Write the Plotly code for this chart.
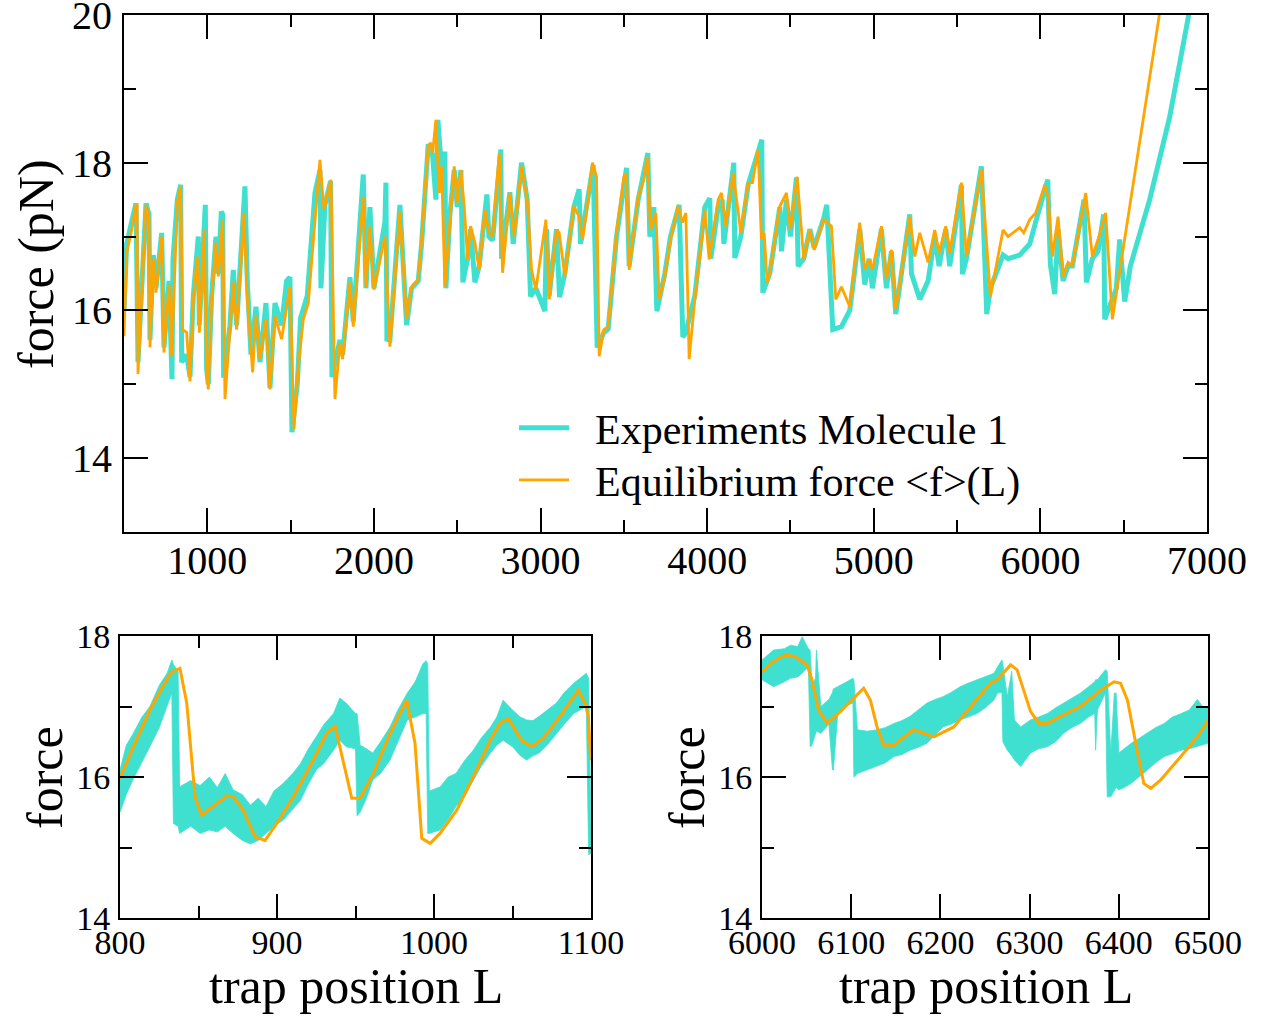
import plotly.graph_objects as go

# ---------------- data: top panel ----------------
ORANGE_TOP_X = [500, 516, 546, 572, 578, 584, 632, 650, 656, 676,
                692, 726, 740, 770, 786, 820, 840, 852, 876, 896,
                916, 940, 952, 982, 996, 1006, 1026, 1052, 1066, 1092,
                1106, 1136, 1156, 1176, 1220, 1240, 1272, 1292, 1316, 1352,
                1376, 1406, 1446, 1496, 1520, 1546, 1576, 1606, 1646, 1676,
                1700, 1742, 1766, 1796, 1812, 1856, 1876, 1936, 1952, 1976,
                2000, 2066, 2096, 2156, 2196, 2226, 2266, 2286, 2326, 2340,
                2352, 2372, 2392, 2406, 2426, 2456, 2482, 2500, 2522, 2542,
                2562, 2580, 2606, 2632, 2666, 2692, 2712, 2752, 2772, 2816,
                2842, 2886, 2920, 2946, 2972, 3032, 3052, 3096, 3112, 3146,
                3200, 3232, 3252, 3286, 3312, 3336, 3352, 3380, 3406, 3456,
                3500, 3516, 3532, 3586, 3620, 3640, 3660, 3692, 3712, 3746,
                3780, 3826, 3852, 3872, 3892, 3926, 3986, 4012, 4066, 4086,
                4112, 4156, 4202, 4246, 4272, 4306, 4326, 4342, 4360, 4376,
                4436, 4476, 4500, 4540, 4580, 4616, 4642, 4700, 4746, 4772,
                4806, 4856, 4916, 4946, 4972, 4992, 5046, 5076, 5106, 5132,
                5216, 5246, 5276, 5326, 5366, 5392, 5432, 5456, 5526, 5556,
                5646, 5700, 5776, 5806, 5876, 5900, 5936, 5972, 6026, 6046,
                6072, 6106, 6136, 6166, 6192, 6272, 6312, 6346, 6392, 6432,
                6456, 6716, 6746]
ORANGE_TOP_Y = [15.65, 16.78, 17.09, 17.43, 17.43, 15.14, 17.43, 17.27, 15.5, 16.7,
                16.24, 17.0, 15.43, 16.35, 15.38, 17.46, 17.68, 15.74, 15.7, 15.04,
                16.15, 16.73, 15.7, 17.09, 15.16, 14.93, 16.15, 16.92, 16.46, 17.23,
                14.8, 15.74, 16.38, 15.74, 17.32, 16.15, 15.16, 15.92, 15.34, 15.88,
                14.93, 15.92, 15.61, 16.32, 14.39, 15.24, 15.88, 16.1, 17.27, 18.04,
                17.36, 17.77, 14.8, 15.56, 15.34, 16.38, 15.78, 17.54, 16.32, 17.14,
                16.28, 17.0, 15.51, 17.34, 15.88, 16.32, 16.42, 16.96, 18.22, 18.27,
                18.13, 18.58, 17.59, 17.95, 16.32, 17.27, 17.95, 17.46, 17.9, 17.41,
                16.69, 17.14, 16.92, 16.55, 17.36, 17.05, 17.0, 18.13, 16.51, 17.59,
                17.0, 17.95, 17.5, 16.55, 16.28, 17.23, 16.15, 17.09, 17.05, 16.46,
                17.41, 17.27, 16.96, 17.5, 18.0, 17.81, 15.38, 15.74, 15.78, 17.05,
                17.81, 17.86, 16.55, 17.54, 17.77, 18.08, 17.09, 17.32, 16.15, 16.46,
                16.96, 17.41, 17.19, 17.32, 15.34, 16.15, 17.36, 16.69, 17.5, 17.59,
                17.14, 17.86, 17.05, 17.73, 17.73, 18.18, 16.96, 17.05, 16.38, 16.51,
                17.41, 17.59, 17.09, 17.81, 16.69, 17.09, 16.82, 17.23, 17.14, 16.15,
                16.32, 16.05, 17.19, 16.55, 16.69, 16.55, 17.14, 16.42, 16.82, 16.01,
                17.27, 16.73, 17.05, 16.65, 17.09, 16.78, 17.14, 16.78, 17.73, 16.73,
                17.9, 16.19, 17.09, 17.0, 17.12, 17.05, 17.23, 17.32, 17.7, 17.54,
                16.73, 17.27, 16.46, 16.65, 16.6, 17.59, 16.73, 16.96, 17.32, 15.88,
                16.24, 20.03, 20.5]

EXP_TOP_X = [500, 516, 546, 572, 584, 632, 650, 656, 676, 692,
             726, 740, 770, 788, 794, 820, 840, 846, 876, 896,
             916, 946, 952, 982, 988, 996, 1006, 1026, 1052, 1066,
             1084, 1092, 1098, 1136, 1156, 1176, 1226, 1240, 1262, 1292,
             1316, 1352, 1376, 1406, 1446, 1476, 1496, 1508, 1540, 1560,
             1600, 1646, 1676, 1682, 1706, 1740, 1748, 1796, 1812, 1856,
             1876, 1936, 1952, 1976, 2000, 2066, 2072, 2078, 2096, 2156,
             2196, 2226, 2266, 2286, 2326, 2352, 2372, 2384, 2406, 2426,
             2432, 2456, 2482, 2500, 2522, 2534, 2562, 2580, 2606, 2632,
             2678, 2690, 2712, 2762, 2766, 2816, 2836, 2886, 2920, 2940,
             2972, 3026, 3036, 3052, 3096, 3114, 3146, 3200, 3232, 3240,
             3286, 3316, 3340, 3380, 3406, 3456, 3516, 3532, 3586, 3644,
             3656, 3680, 3698, 3746, 3780, 3832, 3854, 3872, 3926, 3986,
             4016, 4022, 4066, 4090, 4100, 4156, 4160, 4166, 4202, 4246,
             4296, 4328, 4334, 4376, 4436, 4446, 4476, 4500, 4536, 4546,
             4580, 4616, 4642, 4700, 4718, 4754, 4806, 4856, 4916, 4946,
             4972, 4992, 5046, 5076, 5106, 5132, 5216, 5226, 5276, 5326,
             5366, 5392, 5432, 5456, 5526, 5532, 5556, 5646, 5678, 5700,
             5776, 5806, 5876, 5936, 5972, 6026, 6044, 6060, 6086, 6106,
             6136, 6166, 6192, 6262, 6276, 6312, 6346, 6380, 6386, 6456,
             6476, 6506, 6540, 6656, 6776, 6896, 6920]
EXP_TOP_Y = [16.0, 16.9, 17.2, 17.45, 15.3, 17.45, 17.3, 15.6, 16.75, 16.3,
             17.05, 15.5, 16.4, 15.07, 16.69, 17.5, 17.7, 15.3, 15.4, 15.1,
             16.2, 17.0, 15.8, 17.2, 17.43, 15.2, 15.0, 16.2, 17.0, 16.5,
             17.34, 17.3, 15.09, 15.8, 16.55, 15.8, 17.68, 16.4, 15.4, 16.05,
             15.3, 16.1, 14.95, 16.1, 15.8, 16.4, 16.45, 14.35, 15.0, 15.9,
             16.2, 17.59, 17.9, 16.3, 17.43, 17.75, 15.1, 15.6, 15.4, 16.45,
             15.85, 17.84, 16.3, 17.4, 16.3, 17.2, 17.73, 15.61, 15.6, 17.43,
             15.8, 16.3, 16.4, 16.9, 18.25, 18.1, 17.5, 18.58, 17.9, 18.15,
             16.3, 17.3, 17.9, 17.4, 17.9, 16.38, 16.7, 17.1, 16.38, 16.6,
             17.57, 17.0, 16.95, 18.18, 16.7, 17.6, 16.9, 18.0, 17.5, 16.19,
             16.3, 15.99, 17.1, 16.2, 17.1, 16.18, 16.5, 17.4, 17.64, 16.9,
             17.5, 17.97, 15.5, 15.7, 15.75, 17.0, 17.93, 16.6, 17.5, 18.13,
             17.0, 17.4, 15.99, 16.5, 17.0, 17.43, 15.64, 15.7, 16.2, 17.4,
             17.52, 16.7, 17.4, 17.5, 16.9, 17.9, 18.0, 16.71, 17.0, 17.7,
             18.1, 18.31, 16.24, 16.5, 17.4, 16.8, 17.5, 17.0, 17.8, 16.6,
             16.7, 17.1, 16.85, 17.25, 17.43, 15.74, 15.78, 16.0, 17.1, 16.35,
             16.7, 16.3, 17.1, 16.3, 16.8, 15.95, 17.3, 16.5, 16.15, 16.4,
             17.0, 16.6, 17.1, 16.6, 17.7, 16.49, 16.7, 17.95, 15.95, 16.3,
             16.75, 16.7, 16.75, 16.9, 17.2, 17.6, 17.77, 16.62, 16.22, 17.1,
             16.4, 16.6, 16.6, 17.5, 16.38, 16.7, 16.8, 17.3, 15.88, 16.3,
             16.96, 16.12, 16.6, 17.5, 18.62, 20.07, 20.4]

# ---------------- data: bottom-left panel (800-1100) ----------------
BL_ORANGE_X = [800, 808.5, 819, 829.7, 833, 838.2, 842.5, 847.8, 852, 868,
               872.2, 878.5, 886, 892.4, 899.8, 910.4, 923.1, 931.7, 937, 942.2,
               947.6, 952.9, 961.4, 972, 982.6, 987.9, 992.2, 997.5, 1003.8, 1014.5,
               1025, 1035.7, 1042, 1047.3, 1055.8, 1062.2, 1069.6, 1080.3, 1091.9, 1096.2,
               1098.3, 1099.8]
BL_ORANGE_Y = [15.98, 16.43, 16.95, 17.38, 17.49, 17.54, 17.05, 15.72, 15.46, 15.73,
               15.72, 15.53, 15.15, 15.1, 15.34, 15.72, 16.24, 16.62, 16.72, 16.24,
               15.7, 15.7, 16.05, 16.62, 17.09, 16.48, 15.13, 15.06, 15.2, 15.53,
               16.0, 16.52, 16.76, 16.83, 16.52, 16.43, 16.55, 16.86, 17.23, 17.05,
               16.86, 16.24]

BL_EXP_X = [800, 804, 808, 814, 819, 825, 830, 833, 834, 837,
            838, 845, 851, 857, 862, 867, 872, 878, 883, 888,
            893, 898, 904, 910, 915, 920, 925, 930, 936, 940,
            944, 950, 951, 953, 957, 961, 966, 972, 977, 983,
            988, 993, 995, 996, 997, 1004, 1009, 1014, 1020, 1025,
            1030, 1036, 1040, 1044, 1050, 1055, 1059, 1063, 1067, 1072,
            1078, 1083, 1089, 1093, 1097, 1098.5, 1100]
BL_EXP_UPPER = [16.1, 16.45, 16.6, 16.85, 17.0, 17.3, 17.47, 17.66, 17.6, 17.5,
                15.86, 15.95, 15.88, 16.0, 15.85, 16.05, 15.82, 15.75, 15.6, 15.7,
                15.58, 15.8, 15.91, 16.05, 16.19, 16.4, 16.57, 16.75, 16.9, 17.12,
                17.05, 16.9, 16.9, 16.45, 16.4, 16.34, 16.5, 16.71, 16.95, 17.19,
                17.35, 17.61, 17.65, 17.6, 15.8, 15.86, 16.0, 16.05, 16.25, 16.38,
                16.55, 16.71, 16.85, 17.09, 16.95, 16.85, 16.81, 16.8, 16.86, 16.95,
                17.05, 17.2, 17.33, 17.4, 17.47, 17.4, 15.3]
BL_EXP_LOWER = [15.5, 15.75, 15.95, 16.2, 16.43, 16.7, 17.0, 17.19, 15.34, 15.3,
                15.2, 15.3, 15.2, 15.25, 15.22, 15.3, 15.2, 15.1, 15.05, 15.1,
                15.2, 15.3, 15.39, 15.55, 15.67, 15.9, 16.1, 16.2, 16.38, 16.52,
                16.43, 16.4, 15.45, 15.5, 15.7, 15.96, 16.05, 16.24, 16.5, 16.81,
                16.85, 16.9, 16.9, 15.2, 15.2, 15.25, 15.4, 15.58, 15.75, 15.96,
                16.15, 16.34, 16.45, 16.52, 16.43, 16.3, 16.24, 16.3, 16.34, 16.45,
                16.62, 16.75, 16.9, 16.95, 17.0, 14.9, 14.92]

# ---------------- data: bottom-right panel (6000-6500) ----------------
BR_ORANGE_X = [6000, 6013, 6026, 6037, 6050.5, 6056, 6063.5, 6073, 6088, 6103,
               6114, 6121.5, 6129, 6136.5, 6147.7, 6170, 6192.6, 6215, 6237.5, 6256,
               6263.7, 6278.7, 6286, 6293.6, 6301, 6310.4, 6319.8, 6334.8, 6357, 6379.6,
               6394.6, 6402, 6409.7, 6419, 6428, 6435.8, 6447, 6469.5, 6488, 6500]
BR_ORANGE_Y = [17.49, 17.64, 17.73, 17.71, 17.59, 17.38, 16.95, 16.76, 16.93, 17.12,
               17.26, 17.09, 16.71, 16.45, 16.45, 16.67, 16.57, 16.71, 17.05, 17.33,
               17.38, 17.59, 17.52, 17.23, 16.93, 16.76, 16.76, 16.86, 17.0, 17.23,
               17.35, 17.33, 17.09, 16.48, 15.91, 15.84, 15.96, 16.29, 16.57, 16.8]

BR_EXP_X = [6000, 6013, 6025, 6032, 6040, 6045, 6052, 6054, 6056, 6060,
            6061, 6066, 6075, 6079, 6080, 6085, 6092, 6102, 6103, 6107,
            6118, 6129, 6138, 6148, 6157, 6166, 6175, 6185, 6194, 6203,
            6212, 6222, 6231, 6241, 6250, 6260, 6264, 6269, 6270, 6275,
            6280, 6283, 6290, 6301, 6310, 6320, 6329, 6338, 6347, 6357,
            6366, 6373, 6374, 6376, 6385, 6387, 6391, 6395, 6397, 6400,
            6406, 6414, 6423, 6432, 6441, 6451, 6460, 6470, 6479, 6488,
            6494, 6500]
BR_EXP_UPPER = [17.66, 17.8, 17.82, 17.87, 17.85, 17.99, 17.82, 17.8, 17.3, 17.4,
                17.8, 17.0, 17.1, 17.2, 17.25, 17.28, 17.33, 17.4, 17.38, 16.67,
                16.65, 16.67, 16.7, 16.76, 16.8, 16.86, 16.95, 17.05, 17.1, 17.14,
                17.2, 17.28, 17.33, 17.38, 17.42, 17.47, 17.56, 17.66, 17.6, 17.14,
                17.5, 16.81, 16.71, 16.81, 16.85, 16.9, 16.98, 17.05, 17.12, 17.19,
                17.28, 17.35, 17.38, 17.38, 17.52, 17.5, 16.34, 17.19, 17.19, 16.34,
                16.4, 16.48, 16.55, 16.62, 16.7, 16.76, 16.85, 16.9, 16.95, 17.1,
                17.0, 17.0]
BR_EXP_LOWER = [17.38, 17.28, 17.35, 17.4, 17.42, 17.47, 17.56, 16.43, 16.45, 16.6,
                16.65, 16.62, 16.75, 16.1, 16.1, 16.9, 17.0, 17.05, 16.0, 16.05,
                16.1, 16.15, 16.2, 16.29, 16.32, 16.38, 16.42, 16.48, 16.6, 16.71,
                16.75, 16.81, 16.85, 16.9, 16.98, 17.09, 17.19, 17.2, 16.5, 16.38,
                16.3, 16.24, 16.15, 16.34, 16.4, 16.43, 16.5, 16.62, 16.7, 16.76,
                16.85, 16.9, 16.38, 16.95, 17.19, 15.72, 15.72, 15.82, 15.85, 15.82,
                15.85, 15.91, 16.0, 16.1, 16.2, 16.29, 16.33, 16.38, 16.4, 16.43,
                16.45, 16.48]

# ---------------- styles ----------------
TURQ = "#40E0D0"
ORNG = "#FFA500"
FONT = "Liberation Serif, Times New Roman, Times, serif"
W, H = 1265, 1016
PAD = "\u00a0\u00a0"

fig = go.Figure()

# top panel
fig.add_trace(go.Scatter(x=EXP_TOP_X, y=EXP_TOP_Y, mode="lines",
                         line=dict(color=TURQ, width=5), legend="legend",
                         name=PAD + "Experiments Molecule 1", xaxis="x", yaxis="y"))
fig.add_trace(go.Scatter(x=ORANGE_TOP_X, y=ORANGE_TOP_Y, mode="lines",
                         line=dict(color=ORNG, width=2.8), legend="legend2",
                         name=PAD + "Equilibrium force &lt;f&gt;(L)", xaxis="x", yaxis="y"))

# bottom-left panel
fig.add_trace(go.Scatter(x=BL_EXP_X, y=BL_EXP_LOWER, mode="lines",
                         line=dict(color=TURQ, width=0.8), showlegend=False,
                         xaxis="x2", yaxis="y2"))
fig.add_trace(go.Scatter(x=BL_EXP_X, y=BL_EXP_UPPER, mode="lines",
                         line=dict(color=TURQ, width=0.8), fill="tonexty",
                         fillcolor=TURQ, showlegend=False,
                         xaxis="x2", yaxis="y2"))
fig.add_trace(go.Scatter(x=BL_ORANGE_X, y=BL_ORANGE_Y, mode="lines",
                         line=dict(color=ORNG, width=3), showlegend=False,
                         xaxis="x2", yaxis="y2"))

# bottom-right panel
fig.add_trace(go.Scatter(x=BR_EXP_X, y=BR_EXP_LOWER, mode="lines",
                         line=dict(color=TURQ, width=0.8), showlegend=False,
                         xaxis="x3", yaxis="y3"))
fig.add_trace(go.Scatter(x=BR_EXP_X, y=BR_EXP_UPPER, mode="lines",
                         line=dict(color=TURQ, width=0.8), fill="tonexty",
                         fillcolor=TURQ, showlegend=False,
                         xaxis="x3", yaxis="y3"))
fig.add_trace(go.Scatter(x=BR_ORANGE_X, y=BR_ORANGE_Y, mode="lines",
                         line=dict(color=ORNG, width=3), showlegend=False,
                         xaxis="x3", yaxis="y3"))


def axis(domain, rng, dtick, minor_dtick, fsize, anchor, standoff):
    d = dict(domain=domain, range=rng, dtick=dtick, tick0=0,
             ticks="inside", ticklen=24, tickwidth=2, tickcolor="black",
             showline=True, linewidth=2, linecolor="black", mirror="ticks",
             showgrid=False, zeroline=False, automargin=False,
             ticklabeloverflow="allow", ticklabelstandoff=standoff,
             tickfont=dict(family=FONT, size=fsize, color="black"),
             anchor=anchor)
    if minor_dtick:
        d["minor"] = dict(dtick=minor_dtick, tick0=0, ticks="inside", ticklen=12,
                          tickwidth=2, tickcolor="black", showgrid=False)
    return d


def px_x(p):
    return p / W


def px_y(p):
    return 1 - p / H


def legend_box(top_px):
    return dict(x=px_x(514), y=px_y(top_px), xanchor="left", yanchor="top",
                bgcolor="rgba(0,0,0,0)", borderwidth=0, traceorder="normal",
                font=dict(family=FONT, size=42, color="black"),
                itemwidth=50, tracegroupgap=0)


fig.update_layout(
    width=W, height=H,
    margin=dict(l=0, r=0, t=0, b=0),
    paper_bgcolor="white", plot_bgcolor="white",
    font=dict(family=FONT, color="black"),
    xaxis=axis([px_x(124), px_x(1207)], [500, 7000], 1000, 500, 40, "y", -8),
    yaxis=axis([px_y(532), px_y(15)], [13, 20], 2, 1, 40, "x", 2),
    xaxis2=axis([px_x(120), px_x(591)], [800, 1100], 100, 50, 34, "y2", -7),
    yaxis2=axis([px_y(918), px_y(636)], [14, 18], 2, 1, 34, "x2", 1),
    xaxis3=axis([px_x(762), px_x(1208)], [6000, 6500], 100, None, 34, "y3", -7),
    yaxis3=axis([px_y(918), px_y(636)], [14, 18], 2, 1, 34, "x3", 1),
    legend=legend_box(394),
    legend2=legend_box(446),
    showlegend=True,
)

title_font = dict(family=FONT, size=50, color="black")
annos = [
    dict(text="force (pN)", x=px_x(36), y=px_y(264), textangle=-90),
    dict(text="force", x=px_x(45), y=px_y(778), textangle=-90),
    dict(text="force", x=px_x(687), y=px_y(778), textangle=-90),
    dict(text="trap position L", x=px_x(356), y=px_y(986), textangle=0),
    dict(text="trap position L", x=px_x(986), y=px_y(986), textangle=0),
]
for a in annos:
    fig.add_annotation(text=a["text"], x=a["x"], y=a["y"], xref="paper", yref="paper",
                       xanchor="center", yanchor="middle", showarrow=False,
                       textangle=a["textangle"], font=title_font)

fig.write_html("out.html")
